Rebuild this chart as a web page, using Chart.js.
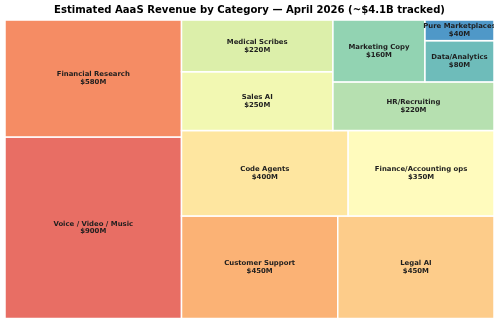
<!DOCTYPE html>
<html>
<head>
<meta charset="utf-8">
<script src="https://cdn.jsdelivr.net/npm/chart.js@4"></script>
<style>
  body { margin: 0; background: #fff; }
  canvas { display: block; }
</style>
</head>
<body>
<canvas id="chart" width="500" height="324"></canvas>
<script>
const categories = ['Voice / Video / Music', 'Financial Research', 'Customer Support', 'Legal AI',
  'Code Agents', 'Finance/Accounting ops', 'Sales AI', 'Medical Scribes', 'HR/Recruiting',
  'Marketing Copy', 'Data/Analytics', 'Pure Marketplaces'];
const revenue = [900, 580, 450, 450, 400, 350, 250, 220, 220, 160, 80, 40];
const colors = ['#e86e64', '#f58c64', '#fbb275', '#fdcc8a', '#fee6a0', '#fffbbd',
  '#f2f8b2', '#dcefaa', '#b6e0b0', '#92d3b2', '#6ebcba', '#4f98c8'];

// squarify layout in a 100 x 100 box (y goes up)
function layoutRow(sizes, x, y, dx, dy) {
  const w = sizes.reduce((a, b) => a + b, 0) / dy;
  return sizes.map(s => { const r = { x, y, dx: w, dy: s / w }; y += s / w; return r; });
}
function layoutCol(sizes, x, y, dx, dy) {
  const h = sizes.reduce((a, b) => a + b, 0) / dx;
  return sizes.map(s => { const r = { x, y, dx: s / h, dy: h }; x += s / h; return r; });
}
function layout(sizes, x, y, dx, dy) {
  return dx >= dy ? layoutRow(sizes, x, y, dx, dy) : layoutCol(sizes, x, y, dx, dy);
}
function leftover(sizes, x, y, dx, dy) {
  const a = sizes.reduce((p, q) => p + q, 0);
  if (dx >= dy) return [x + a / dy, y, dx - a / dy, dy];
  return [x, y + a / dx, dx, dy - a / dx];
}
function worst(sizes, x, y, dx, dy) {
  return Math.max(...layout(sizes, x, y, dx, dy).map(r => Math.max(r.dx / r.dy, r.dy / r.dx)));
}
function squarify(sizes, x, y, dx, dy) {
  if (sizes.length === 0) return [];
  if (sizes.length === 1) return layout(sizes, x, y, dx, dy);
  let i = 1;
  while (i < sizes.length && worst(sizes.slice(0, i), x, y, dx, dy) >= worst(sizes.slice(0, i + 1), x, y, dx, dy)) i++;
  const cur = sizes.slice(0, i);
  const [lx, ly, ldx, ldy] = leftover(cur, x, y, dx, dy);
  return layout(cur, x, y, dx, dy).concat(squarify(sizes.slice(i), lx, ly, ldx, ldy));
}

const total = revenue.reduce((a, b) => a + b, 0);
const rects = squarify(revenue.map(v => v * 10000 / total), 0, 0, 100, 100);
const cells = rects.map((r, i) => ({
  x: r.x + r.dx / 2, y: r.y + r.dy / 2, rect: r,
  label: categories[i], value: revenue[i], color: colors[i]
}));

const treemapCells = {
  id: 'treemapCells',
  beforeDatasetsDraw(chart) {
    const { ctx, chartArea: area, scales: { x, y } } = chart;
    ctx.save();
    cells.forEach(c => {
      const x0 = x.getPixelForValue(c.rect.x);
      const x1 = x.getPixelForValue(c.rect.x + c.rect.dx);
      const y0 = y.getPixelForValue(c.rect.y + c.rect.dy);
      const y1 = y.getPixelForValue(c.rect.y);
      ctx.fillStyle = c.color;
      ctx.fillRect(x0, y0, x1 - x0, y1 - y0);
      ctx.strokeStyle = '#ffffff';
      ctx.lineWidth = 1.5;
      ctx.strokeRect(x0, y0, x1 - x0, y1 - y0);
    });
    // labels are clipped to the plot area
    ctx.beginPath();
    ctx.rect(area.left, area.top, area.right - area.left, area.bottom - area.top);
    ctx.clip();
    ctx.fillStyle = '#1e1e1e';
    ctx.font = 'bold 6.9px "DejaVu Sans"';
    ctx.textAlign = 'center';
    ctx.textBaseline = 'middle';
    cells.forEach(c => {
      const px = x.getPixelForValue(c.x);
      const py = y.getPixelForValue(c.y);
      ctx.fillText(c.label, px, py - 3.9);
      ctx.fillText('$' + c.value + 'M', px, py + 3.9);
    });
    ctx.restore();
  }
};

Chart.defaults.font.family = '"DejaVu Sans"';
new Chart(document.getElementById('chart'), {
  type: 'scatter',
  data: {
    datasets: [{ data: cells, pointRadius: 0, pointHoverRadius: 0 }]
  },
  options: {
    responsive: false,
    animation: false,
    layout: { padding: { left: 5, right: 6, bottom: 5.5, top: 0 } },
    scales: {
      x: { type: 'linear', min: 0, max: 100, display: false },
      y: { type: 'linear', min: 0, max: 100, display: false }
    },
    plugins: {
      legend: { display: false },
      tooltip: { enabled: false },
      title: {
        display: true,
        text: 'Estimated AaaS Revenue by Category — April 2026 (~$4.1B tracked)',
        color: '#000',
        font: { size: 10.1, weight: 'bold' },
        padding: { top: 4, bottom: 3.9 }
      }
    }
  },
  plugins: [treemapCells]
});
</script>
</body>
</html>
